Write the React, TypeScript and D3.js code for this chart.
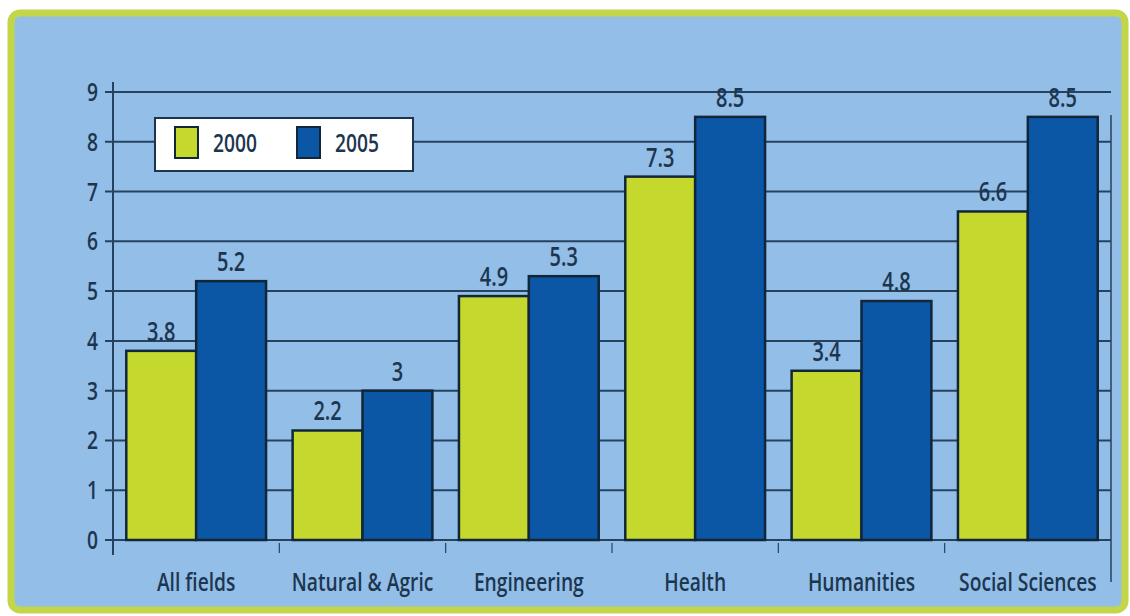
import { useEffect, useRef } from 'react';
import * as d3 from 'd3';

const categories = ['All fields', 'Natural & Agric', 'Engineering', 'Health', 'Humanities', 'Social Sciences'];
const series = ['2000', '2005'];
const values2000 = [3.8, 2.2, 4.9, 7.3, 3.4, 6.6];
const values2005 = [5.2, 3, 5.3, 8.5, 4.8, 8.5];
const yTicks = [0, 1, 2, 3, 4, 5, 6, 7, 8, 9];

const width = 1130;
const height = 616;
const colors = ['#c4d82e', '#0b57a6'];
const ink = '#1d3650';
const font = "'Open Sans', 'DejaVu Sans', sans-serif";
const squeeze = 0.74; // police condensée

const App = () => {
  const svgRef = useRef<SVGSVGElement>(null);

  useEffect(() => {
    const svg = d3.select(svgRef.current);
    svg.selectAll('*').remove();

    // petit utilitaire pour du texte condensé
    const label = (sel: any, x: (d: any) => number, y: (d: any) => number, size: number) =>
      sel.attr('transform', (d: any) => `translate(${x(d)},${y(d)}) scale(${squeeze},1)`)
        .attr('font-family', font)
        .attr('font-weight', 600)
        .attr('font-size', size)
        .attr('fill', ink);

    // cadre vert + fond bleu
    svg.append('rect')
      .attr('x', 11).attr('y', 13)
      .attr('width', 1114).attr('height', 597)
      .attr('rx', 9)
      .attr('fill', '#93bee7')
      .attr('stroke', '#c3d64a')
      .attr('stroke-width', 7);

    const x0 = d3.scaleBand().domain(categories).range([113, 1111]).padding(0);
    const x1 = d3.scaleBand().domain(series).range([0, x0.bandwidth()]).paddingInner(0).paddingOuter(0.19);
    const y = d3.scaleLinear().domain([0, 9]).range([540, 92]);

    // lignes de grille
    svg.append('g').selectAll('line')
      .data(yTicks)
      .enter().append('line')
      .attr('x1', 105).attr('x2', 1111)
      .attr('y1', d => y(d)).attr('y2', d => y(d))
      .attr('stroke', '#25425f')
      .attr('stroke-width', 2);

    // axe vertical gauche et droit
    svg.append('line')
      .attr('x1', 113).attr('x2', 113).attr('y1', 82).attr('y2', 555)
      .attr('stroke', '#25425f').attr('stroke-width', 2);
    svg.append('line')
      .attr('x1', 1111).attr('x2', 1111).attr('y1', 115).attr('y2', 582)
      .attr('stroke', '#25425f').attr('stroke-width', 1.5);

    // petits traits entre catégories
    svg.append('g').selectAll('line')
      .data(categories.slice(1))
      .enter().append('line')
      .attr('x1', d => x0(d)!).attr('x2', d => x0(d)!)
      .attr('y1', 543).attr('y2', 553)
      .attr('stroke', '#25425f').attr('stroke-width', 1.2);

    // étiquettes de l'axe y
    label(
      svg.append('g').selectAll('text').data(yTicks).enter().append('text'),
      () => 98, d => y(d) + 9, 26
    ).attr('text-anchor', 'end').text((d: number) => d);

    // barres
    const rows = categories.map((c, i) => ({ cat: c, vals: [values2000[i], values2005[i]] }));
    const groups = svg.append('g').selectAll('g')
      .data(rows)
      .enter().append('g')
      .attr('transform', d => `translate(${x0(d.cat)},0)`);

    groups.selectAll('rect')
      .data(d => d.vals.map((v, j) => ({ key: series[j], v, j })))
      .enter().append('rect')
      .attr('x', d => x1(d.key)!)
      .attr('y', d => y(d.v))
      .attr('width', x1.bandwidth())
      .attr('height', d => y(0) - y(d.v))
      .attr('fill', d => colors[d.j])
      .attr('stroke', '#12263a')
      .attr('stroke-width', 2.5);

    label(
      groups.selectAll('text')
        .data((d: any) => d.vals.map((v: number, j: number) => ({ key: series[j], v, j })))
        .enter().append('text'),
      d => x1(d.key)! + x1.bandwidth() / 2,
      d => y(d.v) - 10,
      27
    ).attr('text-anchor', 'middle').text((d: any) => d.v);

    // étiquettes des catégories
    label(
      svg.append('g').selectAll('text').data(categories).enter().append('text'),
      d => x0(d)! + x0.bandwidth() / 2,
      () => 591,
      26
    ).attr('text-anchor', 'middle').text((d: string) => d);

    // légende
    const legend = svg.append('g');
    legend.append('rect')
      .attr('x', 155).attr('y', 118).attr('width', 258).attr('height', 53)
      .attr('fill', '#ffffff')
      .attr('stroke', '#1d3650').attr('stroke-width', 2);
    const items = legend.selectAll('g.item')
      .data(series)
      .enter().append('g')
      .attr('class', 'item')
      .attr('transform', (d, i) => `translate(${175 + i * 122},127)`);
    items.append('rect')
      .attr('width', 23).attr('height', 31)
      .attr('fill', (d, i) => colors[i])
      .attr('stroke', '#12263a').attr('stroke-width', 2);
    label(items.append('text'), () => 38, () => 25, 26).text((d: string) => d);
  }, []);

  return (
    <div style={{ position: 'absolute', left: 0, top: 0, width, height, background: '#fff' }}>
      <svg ref={svgRef} width={width} height={height}></svg>
    </div>
  );
};

export default App;
